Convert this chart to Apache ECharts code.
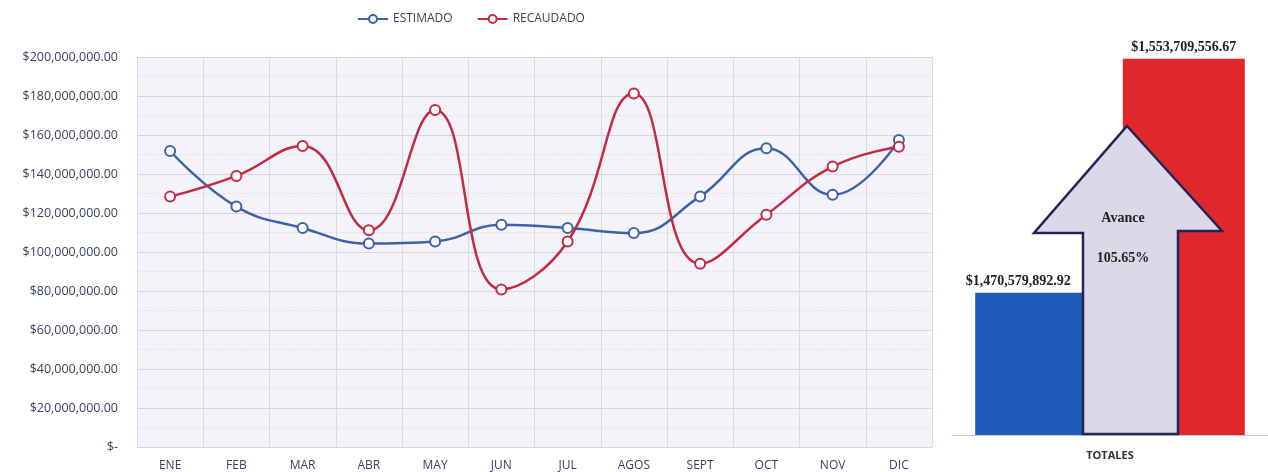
<!DOCTYPE html>
<html>
<head>
<meta charset="utf-8">
<script src="https://cdn.jsdelivr.net/npm/echarts@6/dist/echarts.min.js"></script>
<style>
  html, body { margin: 0; padding: 0; background: #fff; }
  #chart { width: 1268px; height: 472px; }
</style>
</head>
<body>
<div id="chart"></div>
<script>
// datos
var meses = ['ENE', 'FEB', 'MAR', 'ABR', 'MAY', 'JUN', 'JUL', 'AGOS', 'SEPT', 'OCT', 'NOV', 'DIC'];
var estimado = [151800000, 123300000, 112300000, 104300000, 105400000, 114000000,
                112300000, 109700000, 128500000, 153200000, 129300000, 157400000];
var recaudado = [128400000, 139000000, 154400000, 111100000, 172800000, 80800000,
                 105400000, 181300000, 94000000, 119100000, 143800000, 154000000];
var totalEstimado = [1470579892.92];
var totalRecaudado = [1553709556.67];
var totalCategorias = ['TOTALES'];

var azul = '#3c62aa';
var rojo = '#c42a40';

function moneda(v) {
  if (v === 0) return '$-';
  return '$' + v.toLocaleString('en-US', { minimumFractionDigits: 2, maximumFractionDigits: 2 });
}

var avance = (totalRecaudado[0] / totalEstimado[0] * 100).toFixed(2) + '%';

var myChart = echarts.init(document.getElementById('chart'));
myChart.setOption({
  animation: false,
  textStyle: { fontFamily: 'Open Sans' },
  legend: {
    left: 352,
    top: 8,
    itemWidth: 30,
    itemHeight: 10,
    itemGap: 24,
    textStyle: { fontSize: 12, color: '#3b3f5c' },
    data: ['ESTIMADO', 'RECAUDADO']
  },
  grid: [
    { left: 137, right: 336, top: 57, bottom: 24, show: true,
      backgroundColor: '#f4f3f9', borderWidth: 0 },
    { left: 952, right: 0, top: 41, bottom: 37 }
  ],
  xAxis: [
    {
      type: 'category', gridIndex: 0, data: meses,
      axisLine: { show: false }, axisTick: { show: false },
      axisLabel: { color: '#3b3f5c', fontSize: 12, margin: 13 },
      splitLine: { show: true, lineStyle: { color: '#d9d8e6', width: 1 } }
    },
    {
      type: 'category', gridIndex: 1, data: totalCategorias,
      axisLine: { lineStyle: { color: '#c8c8c8', width: 1 } }, axisTick: { show: false },
      axisLabel: { color: '#333', fontSize: 11, fontWeight: 'bold', margin: 15 }
    }
  ],
  yAxis: [
    {
      type: 'value', gridIndex: 0, min: 0, max: 200000000, interval: 20000000,
      axisLine: { show: false }, axisTick: { show: false },
      axisLabel: { color: '#3b3f5c', fontSize: 12.5, margin: 19, formatter: moneda },
      splitLine: { lineStyle: { color: '#d6d5e3', width: 1 } },
      minorTick: { show: false, splitNumber: 2 },
      minorSplitLine: { show: true, lineStyle: { color: '#e6e5ef', width: 1, type: 'dashed' } }
    },
    {
      type: 'value', gridIndex: 1, min: 1420000000, max: 1560000000, show: false,
      splitLine: { show: false }
    }
  ],
  series: [
    {
      name: 'ESTIMADO', type: 'line', xAxisIndex: 0, yAxisIndex: 0,
      data: estimado, smooth: 0.45,
      symbol: 'circle', symbolSize: 10,
      itemStyle: { color: '#fff', borderColor: azul, borderWidth: 2 },
      lineStyle: { color: azul, width: 2.5 },
      z: 3
    },
    {
      name: 'RECAUDADO', type: 'line', xAxisIndex: 0, yAxisIndex: 0,
      data: recaudado, smooth: 0.45,
      symbol: 'circle', symbolSize: 10,
      itemStyle: { color: '#fff', borderColor: rojo, borderWidth: 2 },
      lineStyle: { color: rojo, width: 2.5 },
      z: 4
    },
    {
      name: 'Total estimado', type: 'bar', xAxisIndex: 1, yAxisIndex: 1,
      data: totalEstimado, barWidth: 122, barGap: '21%',
      itemStyle: { color: '#1f5cba' },
      label: {
        show: true, position: 'top', offset: [-18, 0], distance: 4,
        formatter: function (p) { return moneda(p.value); },
        fontFamily: 'Liberation Serif', fontWeight: 'bold', fontSize: 14, color: '#222'
      }
    },
    {
      name: 'Total recaudado', type: 'bar', xAxisIndex: 1, yAxisIndex: 1,
      data: totalRecaudado, barWidth: 122,
      itemStyle: { color: '#e0282c' },
      label: {
        show: true, position: 'top', distance: 4,
        formatter: function (p) { return moneda(p.value); },
        fontFamily: 'Liberation Serif', fontWeight: 'bold', fontSize: 14, color: '#222'
      }
    }
  ],
  graphic: [
    {
      type: 'polygon', z: 100,
      shape: { points: [[1127, 126], [1222, 231], [1178, 231], [1178, 434],
                        [1083, 434], [1083, 233], [1034, 233]] },
      style: { fill: '#dcd7e9', stroke: '#1e2657', lineWidth: 2.5 }
    },
    {
      type: 'text', z: 101,
      style: { x: 1123, y: 218, text: 'Avance', font: 'bold 14px "Liberation Serif"', fill: '#222',
               textAlign: 'center', textVerticalAlign: 'middle' }
    },
    {
      type: 'text', z: 101,
      style: { x: 1123, y: 258, text: avance, font: 'bold 14px "Liberation Serif"', fill: '#222',
               textAlign: 'center', textVerticalAlign: 'middle' }
    }
  ]
});
</script>
</body>
</html>
